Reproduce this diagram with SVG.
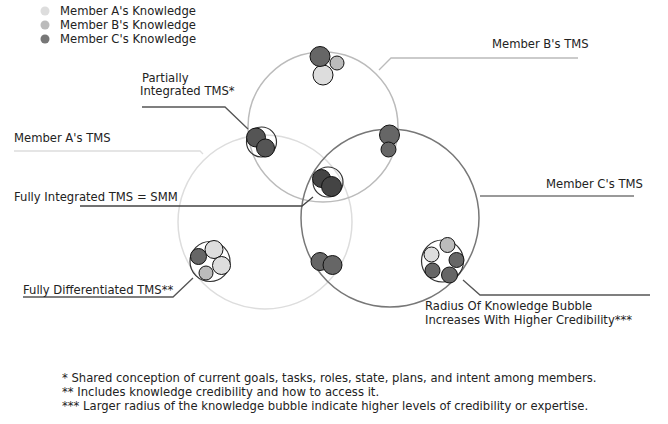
<svg xmlns="http://www.w3.org/2000/svg" width="668" height="424" viewBox="0 0 668 424">
<style>
text{font-family:"DejaVu Sans",Verdana,sans-serif;font-size:11.6px;fill:#222}
.fn{font-size:11.6px}
.tms{fill:none;stroke-width:1.5}
.kb{stroke:#111;stroke-width:1}
.ring{fill:none;stroke:#333;stroke-width:1.2}
.a{fill:#ddd}.b{fill:#bbb}.c{fill:#666}.cd{fill:#555}
.ld{fill:none;stroke-width:1.3}
</style>
<rect width="668" height="424" fill="#fff"/>
<g id="legend">
<circle cx="45" cy="11" r="4.5" fill="#ddd"/>
<circle cx="45" cy="25" r="4.5" fill="#bbb"/>
<circle cx="45" cy="39" r="4.5" fill="#777"/>
<text x="60" y="15">Member A's Knowledge</text>
<text x="60" y="29">Member B's Knowledge</text>
<text x="60" y="43">Member C's Knowledge</text>
</g>
<g id="tms-a"><circle class="tms" cx="265" cy="222" r="87" stroke="#ddd"/></g>
<g id="tms-b"><circle class="tms" cx="323" cy="127" r="75" stroke="#bbb"/></g>
<g id="tms-c"><circle class="tms" cx="390" cy="218" r="89" stroke="#777"/></g>
<g id="connectors">
<polyline class="ld" stroke="#bbb" points="379,70 391,58 578,58"/>
<polyline class="ld" stroke="#777" points="480,196 634,196"/>
<polyline class="ld" stroke="#ddd" points="14,151 200,151 203,154"/>
<polyline class="ld" stroke="#444" points="80,206 302,206 313,197"/>
<polyline class="ld" stroke="#555" points="142,107 225,107 248,129"/>
<polyline class="ld" stroke="#555" points="193,278 173,297 23,297"/>
<polyline class="ld" stroke="#555" points="463,280 480,295 650,295"/>
</g>
<g id="b-knowledge">
<circle class="kb a" cx="323" cy="75" r="10"/>
<circle class="kb b" cx="337" cy="63" r="7"/>
<circle class="kb c" cx="320" cy="56.5" r="10"/>
</g>
<g id="partially-integrated">
<circle class="ring" cx="261.5" cy="142" r="15"/>
<circle class="kb cd" cx="256" cy="137.5" r="9.5"/>
<circle class="kb cd" cx="265.5" cy="148" r="9"/>
</g>
<g id="fully-integrated">
<circle class="ring" cx="328" cy="182" r="15"/>
<circle class="kb" fill="#444" cx="321.5" cy="178.5" r="9"/>
<circle class="kb" fill="#444" cx="331.5" cy="186.5" r="10"/>
</g>
<g id="bc-knowledge">
<circle class="kb c" cx="389.5" cy="135" r="10"/>
<circle class="kb c" cx="388.5" cy="149.5" r="7.5"/>
</g>
<g id="ac-knowledge">
<circle class="kb c" cx="320" cy="261.5" r="9"/>
<circle class="kb c" cx="332.5" cy="265" r="9.5"/>
</g>
<g id="c-knowledge">
<circle class="ring" cx="442.5" cy="261" r="21"/>
<circle class="kb b" cx="447.5" cy="245" r="7.5"/>
<circle class="kb a" cx="431.5" cy="254.5" r="7.5"/>
<circle class="kb c" cx="456.5" cy="260" r="7.5"/>
<circle class="kb c" cx="432.5" cy="270.5" r="7.5"/>
<circle class="kb c" cx="449.5" cy="275" r="8"/>
</g>
<g id="a-knowledge">
<circle class="ring" cx="210" cy="261.5" r="20"/>
<circle class="kb c" cx="198.5" cy="256.5" r="8"/>
<circle class="kb a" cx="214" cy="249.5" r="9"/>
<circle class="kb a" cx="221.5" cy="265.5" r="9"/>
<circle class="kb b" cx="206" cy="273" r="7"/>
</g>
<g id="labels">
<text x="492" y="48">Member B's TMS</text>
<text x="546" y="188">Member C's TMS</text>
<text x="14" y="142">Member A's TMS</text>
<text x="14" y="201">Fully Integrated TMS = SMM</text>
<text x="142" y="82">Partially</text>
<text x="140" y="95">Integrated TMS*</text>
<text x="23" y="294">Fully Differentiated TMS**</text>
<text x="425" y="310">Radius Of Knowledge Bubble</text>
<text x="425" y="324">Increases With Higher Credibility***</text>
</g>
<g id="footnotes">
<text class="fn" x="62" y="382">* Shared conception of current goals, tasks, roles, state, plans, and intent among members.</text>
<text class="fn" x="62" y="396">** Includes knowledge credibility and how to access it.</text>
<text class="fn" x="62" y="410">*** Larger radius of the knowledge bubble indicate higher levels of credibility or expertise.</text>
</g>
</svg>
